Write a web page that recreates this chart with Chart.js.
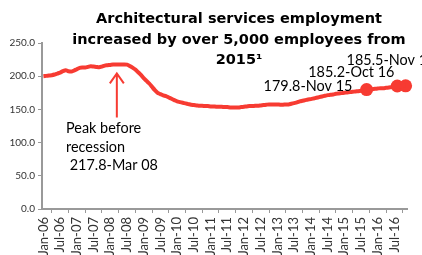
<!DOCTYPE html>
<html><head><meta charset="utf-8">
<script src="https://cdn.jsdelivr.net/npm/chart.js@4"></script>
<style>html,body{margin:0;padding:0;background:#fff}#w{width:422px;height:255px;position:relative}</style>
</head><body><div id="w"><canvas id="c"></canvas></div>
<script>
const monthNames = ['Jan','Feb','Mar','Apr','May','Jun','Jul','Aug','Sep','Oct','Nov','Dec'];
const years = ['06','07','08','09','10','11','12','13','14','15','16'];
const categories = [];
years.forEach(y => monthNames.forEach(m => { if (!(y === '16' && m === 'Dec')) categories.push(m + '-' + y); }));

// Employment (thousands), Jan-06 .. Nov-16
const employment = [
  200,200.5,201,201.5,202.5,204,205.5,207.5,209,207.5,207,208.5,
  210.5,212.5,213,213,214,215,214.5,214,213.5,214.5,216,216.5,
  217,217.5,217.8,217.6,217.5,217.8,217.5,215.5,213,210,206,202,
  197,193,189,184,179,175,173,171,170,168,166,164,
  162,161,160,159,158,157,156.5,156,155.5,155.5,155,155,
  154.5,154.5,154,154,154,153.5,153.5,153,153,153,153,153.5,
  154,154.5,155,155,155.5,155.5,156,156.5,157,157.5,157.5,157.5,
  157.5,157,157,157.5,157.5,158.5,159.5,160.5,162,163,164,165,
  165.5,166.5,167.5,168.5,169.5,170.5,171.5,172,172.5,173.5,174,174.5,
  175,175.5,176,176.5,177,177.5,178,178.5,179.8,180,180.5,181,
  181.5,182,182,182.5,183,183.5,184,185.2,185,185.3,185.5
];
const highlightIndex = [116, 127, 130];
const highlightLabels = ['179.8-Nov 15', '185.2-Oct 16', '185.5-Nov 16'];
const highlightValues = [179.8, 185.2, 185.5];
const peakIndex = 26;
const peakText = ['Peak before', 'recession', ' 217.8-Mar 08'];
const yTicks = [0, 50, 100, 150, 200, 250];
const titleLines = ['Architectural services employment', 'increased by over 5,000 employees from', '2015\u00B9'];

const markers = categories.map(() => null);
highlightIndex.forEach((i, k) => markers[i] = highlightValues[k]);

const RED = '#F73B32';
const labelOffsets = [[-103, 1], [-89, -9], [-59, -21]];

const overlay = {
  id: 'overlay',
  afterDraw(chart) {
    const ctx = chart.ctx;
    const xs = chart.scales.x, ys = chart.scales.y;
    ctx.save();
    // title
    ctx.fillStyle = '#000';
    ctx.font = 'bold 14.5px "DejaVu Sans"';
    ctx.textAlign = 'center';
    ctx.textBaseline = 'alphabetic';
    const tb = [23, 43.5, 64];
    titleLines.forEach((t, i) => ctx.fillText(t, 239, tb[i]));
    // arrow
    const px = xs.getPixelForValue(peakIndex);
    const py = ys.getPixelForValue(employment[peakIndex]);
    ctx.strokeStyle = RED; ctx.lineWidth = 2;
    ctx.beginPath();
    ctx.moveTo(px + 1, py + 53); ctx.lineTo(px + 1, py + 9);
    ctx.moveTo(px - 6, py + 19); ctx.lineTo(px + 1, py + 9); ctx.lineTo(px + 8, py + 19);
    ctx.stroke();
    // peak text
    ctx.textAlign = 'left';
    ctx.font = '15.5px Lato';
    const pb = [133, 151.5, 170];
    peakText.forEach((t, i) => {
      ctx.save(); ctx.translate(66, pb[i]); ctx.scale(0.93, 1); ctx.fillText(t, 0, 0); ctx.restore();
    });
    // data labels
    highlightIndex.forEach((idx, k) => {
      const x = xs.getPixelForValue(idx), y = ys.getPixelForValue(highlightValues[k]);
      ctx.save(); ctx.translate(x + labelOffsets[k][0], y + labelOffsets[k][1]); ctx.scale(0.93, 1);
      ctx.fillText(highlightLabels[k], 0, 0); ctx.restore();
    });
    ctx.restore();
  }
};

new Chart(document.getElementById('c'), {
  type: 'line',
  data: {
    labels: categories,
    datasets: [
      { data: employment, borderColor: RED, borderWidth: 4, pointRadius: 0, tension: 0.3, fill: false },
      { data: markers, borderColor: RED, backgroundColor: RED, showLine: false, pointRadius: 6.5, pointHoverRadius: 6.5, borderWidth: 0 }
    ]
  },
  options: {
    responsive: true, maintainAspectRatio: false, animation: false,
    layout: { padding: { top: 43, right: 15, left: 0, bottom: 0 } },
    plugins: { legend: { display: false }, title: { display: false }, tooltip: { enabled: false } },
    scales: {
      x: {
        type: 'category', offset: true,
        grid: { display: true, offset: true, drawOnChartArea: false, drawTicks: true, tickLength: 4, color: '#999', lineWidth: 1 },
        border: { display: true, color: '#999', width: 2 },
        afterFit(s) { s.height = 46; },
        ticks: {
          autoSkip: false, minRotation: 90, maxRotation: 90, padding: 4,
          color: '#333', font: { family: 'Lato', size: 13 },
          callback(v, i) { return i % 6 === 0 ? categories[i] : null; }
        }
      },
      y: {
        min: 0, max: 250,
        afterBuildTicks(s) { s.ticks = yTicks.map(v => ({ value: v })); },
        afterFit(s) { s.width = 42; },
        grid: { display: true, drawOnChartArea: false, drawTicks: true, tickLength: 4, color: '#999' },
        border: { display: true, color: '#999', width: 2 },
        ticks: { color: '#333', padding: 3, font: { family: 'Lato', size: 10 }, callback(v) { return v.toFixed(1); } }
      }
    }
  },
  plugins: [overlay]
});
</script></body></html>
